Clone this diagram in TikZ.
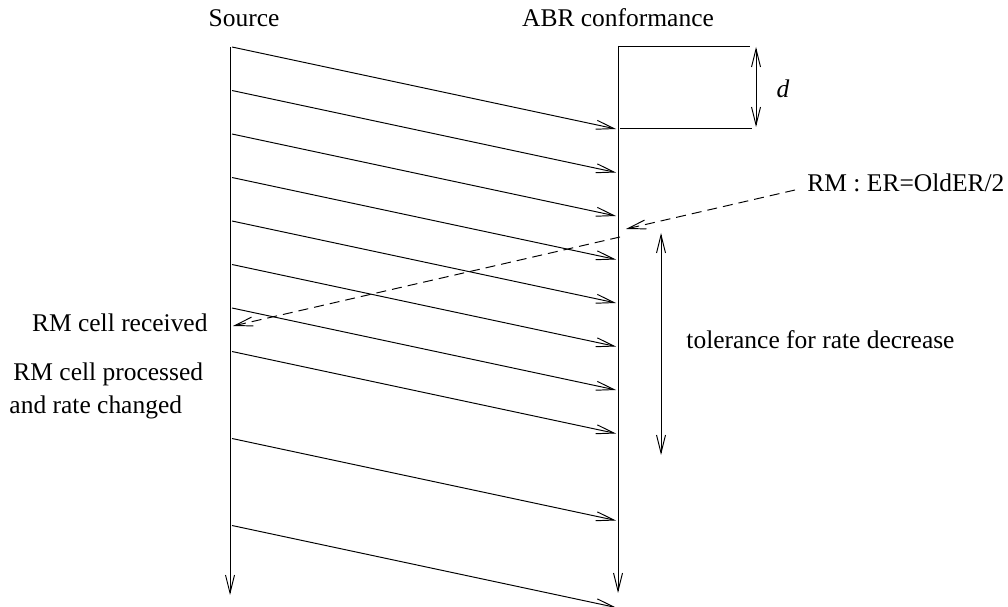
\documentclass[tikz,border=0pt]{standalone}
\usepackage{fontspec}
\setmainfont{Liberation Serif}
\usetikzlibrary{arrows.meta}

\tikzset{
	tip/.style={-{Straight Barb[length=0.36cm,width=0.18cm]}},
	tips/.style={{Straight Barb[length=0.36cm,width=0.18cm]}-{Straight Barb[length=0.36cm,width=0.18cm]}},
	lbl/.style={font=\fontsize{14.5}{17.5}\selectfont, inner sep=0pt},
	rmdash/.style={dash pattern=on 0.2cm off 0.12cm}
}

\begin{document}
\begin{tikzpicture}[x=0.02cm, y=-0.02cm, line width=0.55pt]
			\useasboundingbox (0,0) rectangle (1008,607);
			% Time lines
			\coordinate (src0) at (230,47);
			\coordinate (src1) at (230,595);
			\coordinate (abr0) at (618,46);
			\coordinate (abr1) at (618,593);
			\draw[tip] (src0) -- (src1);
			\draw[tip] (abr0) -- (abr1);
			\node[lbl, anchor=base] (src) at (244,27) {Source};
			\node[lbl, anchor=base] (abr) at (618,27) {ABR conformance};
			% Cells
			\foreach \i in {0,...,7,9,11} {
				\coordinate (cs\i) at (232,{47+43.5*\i});
				\coordinate (ce\i) at (616,{129+43.5*\i});
				\draw[tip] (cs\i) -- (ce\i);
			}
			% d
			\coordinate (dt) at (750,46);
			\coordinate (db0) at (620,128);
			\coordinate (db1) at (752,128);
			\draw (abr0) -- (dt);
			\draw (db0) -- (db1);
			\coordinate (da0) at (756,47);
			\coordinate (da1) at (756,127);
			\draw[tips] (da0) -- (da1);
			\node[lbl, anchor=base] (d) at (783,98) {\textit{d}};
			% RM cell
			\node[lbl, anchor=base west] (rm) at (807,192) {RM : ER=OldER/2};
			\coordinate (rm0) at (795,190);
			\coordinate (rm1) at (626,229);
			\coordinate (rm2) at (620,237);
			\coordinate (rm3) at (233,326);
			\draw[tip, rmdash] (rm0) -- (rm1);
			\draw[tip, rmdash] (rm2) -- (rm3);
			\node[lbl, anchor=base east] (recv) at (208,332) {RM cell received};
			\node[lbl, anchor=base west] (proc) at (13,381) {RM cell processed};
			\node[lbl, anchor=base west] (chg) at (9,414) {and rate changed};
			% Tolerance
			\coordinate (tol0) at (661,233);
			\coordinate (tol1) at (661,455);
			\draw[tips] (tol0) -- (tol1);
			\node[lbl, anchor=base west] (tol) at (686,349) {tolerance for rate decrease};
		\end{tikzpicture}
\end{document}
